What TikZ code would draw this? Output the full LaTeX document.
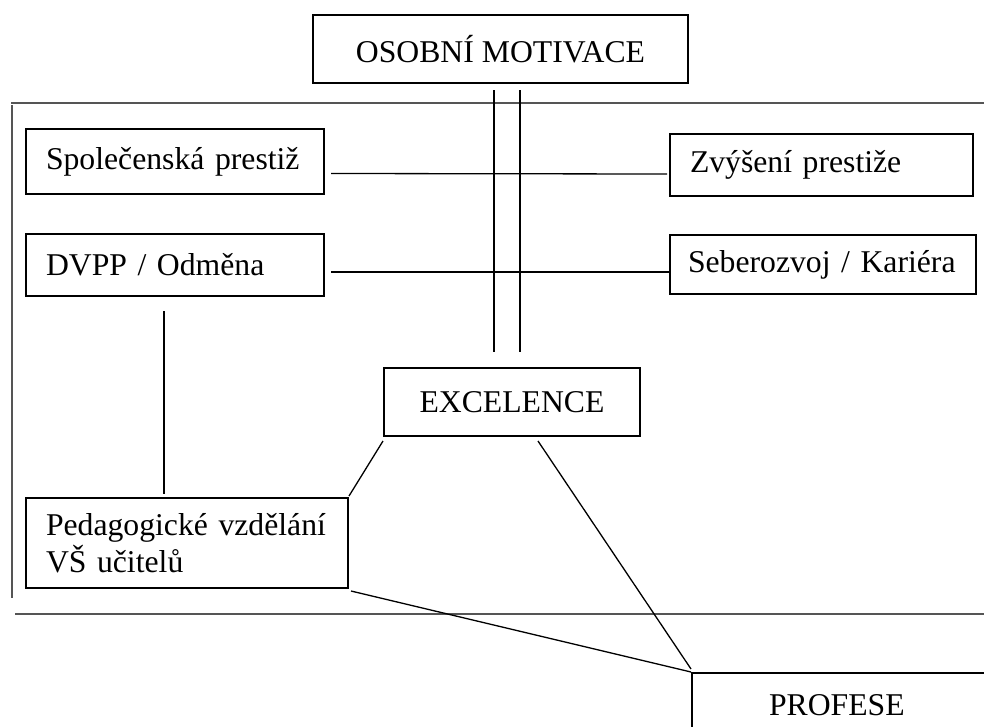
\documentclass[tikz,border=0pt]{standalone}
\usepackage{fontspec}
\setmainfont{Liberation Serif}
\usepackage{xcolor}
\usepackage{tikz}
\usetikzlibrary{positioning, calc}
\definecolor{framegray}{RGB}{85, 85, 85}

\tikzset{
  box/.style={draw=black, line width=2pt, anchor=north west, inner ysep=0pt,
              font=\fontsize{31.7}{37.5}\selectfont},
  leftbox/.style={box, inner xsep=20pt, align=left},
  midbox/.style={box, inner xsep=0pt, align=center},
  link/.style={draw=black, line width=1.3pt},
  frameline/.style={draw=framegray, line width=1.8pt}
}

\begin{document}
\begin{tikzpicture}[x=1pt, y=-1pt]
  \useasboundingbox (0,0) rectangle (984,726);

  % frame
  \draw[frameline] (11,103) -- (984,103);
  \draw[frameline] (12,105) -- (12,598);
  \draw[frameline] (15,614) -- (984,614);

  % boxes
  \node[midbox, minimum width=375pt, minimum height=68pt] (osob) at (312,14) {OSOBNÍ MOTIVACE};
  \node[leftbox, text width=258pt, minimum height=65pt] (spol) at (25,128) {Společenská prestiž};
  \node[leftbox, text width=263pt, minimum height=62pt] (zvys) at (669,133) {Zvýšení prestiže};
  \node[leftbox, text width=258pt, minimum height=62pt] (dvpp) at (25,233) {DVPP / Odměna};
  \node[leftbox, inner xsep=18pt, text width=270pt, minimum height=59pt] (sebe) at (669,234) {Seberozvoj / Kariéra};
  \node[midbox, minimum width=256pt, minimum height=68pt] (excel) at (383,367) {EXCELENCE};
  \node[leftbox, text width=282pt, minimum height=90pt] (ped) at (25,497) {Pedagogické vzdělání\\VŠ učitelů};
  \node[box, inner xsep=77pt, text width=200pt, align=left, minimum height=64pt] (prof) at (691,672) {PROFESE};

  % connectors
  \draw[link] ([shift={(6,12)}]spol.east) -- ([shift={(-2,9)}]zvys.west);
  \draw[link] ([shift={(6,7)}]dvpp.east) -- ([shift={(2,7.5)}]sebe.west);
  \draw[link] ([shift={(-6.5,6)}]osob.south) -- ([shift={(-18,-15)}]excel.north);
  \draw[link] ([shift={(19.5,6)}]osob.south) -- ([shift={(8,-15)}]excel.north);
  \draw[link] ([shift={(-11,14)}]dvpp.south) -- ([shift={(-23,-3)}]ped.north);
  \draw[link] ([shift={(0,4)}]excel.south west) -- ([shift={(0,-1)}]ped.north east);
  \draw[link] ([shift={(26,4)}]excel.south) -- ([shift={(0,-3)}]prof.north west);
  \draw[link] ([shift={(2,2)}]ped.south east) -- (prof.north west);
\end{tikzpicture}
\end{document}
